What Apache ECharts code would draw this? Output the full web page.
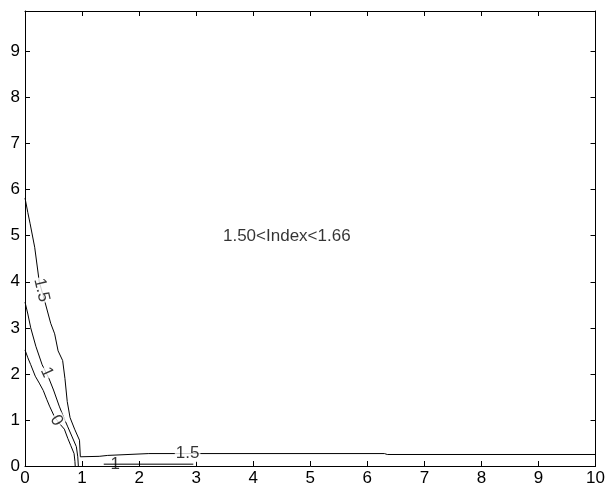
<!DOCTYPE html>
<html>
<head>
<meta charset="utf-8">
<script src="https://cdn.jsdelivr.net/npm/echarts@6/dist/echarts.min.js"></script>
<style>
html, body { margin: 0; padding: 0; background: #fff; }
#main { width: 608px; height: 487px; }
</style>
</head>
<body>
<div id="main"></div>
<script>
var dom = document.getElementById("main");
var myChart = echarts.init(dom);

var xTicks = [0, 10];
var yTicks = [0, 9.88];

// contour lines
var level15 = [[0,5.82],[0.05,5.5],[0.09,5.26],[0.17,4.75],[0.25,4.0],[0.35,3.56],[0.45,3.1],[0.52,2.87],
    [0.58,2.5],[0.66,2.29],[0.70,1.9],[0.74,1.4],[0.79,1.05],[0.87,0.8],[0.955,0.56],[0.97,0.2],
    [1.3,0.21],[1.45,0.23],[2.17,0.27],[6.3,0.27],[6.35,0.25],[10,0.25]];
var level1 = [[0,3.56],[0.05,3.3],[0.1,3.0],[0.19,2.6],[0.3,2.2],[0.42,1.9],[0.5,1.65],[0.6,1.3],
    [0.68,1.05],[0.75,0.85],[0.82,0.65],[0.9,0.42],[0.925,0.2],[0.935,0]];
var level1b = [[1.38,0.04],[2.95,0.04]];
var level0 = [[0,2.52],[0.05,2.35],[0.1,2.2],[0.18,1.95],[0.25,1.8],[0.32,1.64],[0.38,1.45],[0.43,1.3],
    [0.52,1.06],[0.62,0.9],[0.69,0.8],[0.75,0.6],[0.8,0.45],[0.86,0.27],[0.875,0.1],[0.88,0]];

var labelText = ['1.5', '1', '0', '1.5', '1'];
var labelPos = [[0.29,3.82],[0.38,2.03],[0.55,0.99],[2.85,0.27],[1.58,0.04]];
var labelAngle = [-77, -66, -60, 0, 0];

var noteText = '1.50<Index<1.66';
var notePos = [3.47, 4.99];

var font = '"Liberation Sans", Arial, sans-serif';

function lineSeries(name, pts) {
    return {
        name: name,
        type: 'line',
        data: pts,
        symbol: 'none',
        smooth: false,
        lineStyle: { color: '#000', width: 1 },
        z: 2
    };
}

var axisCommon = {
    type: 'value',
    interval: 1,
    axisLine: { show: true, onZero: false, lineStyle: { color: '#000', width: 1 } },
    axisTick: { show: true, inside: true, length: 5, lineStyle: { color: '#000' } },
    splitLine: { show: false },
    axisLabel: { show: false }
};

option = {
    animation: false,
    backgroundColor: '#fff',
    grid: { left: 25, right: 8, top: 11, bottom: 21 },
    xAxis: [
        Object.assign({}, axisCommon, {
            min: xTicks[0], max: xTicks[1], position: 'bottom',
            axisLabel: { show: true, color: '#000', fontSize: 17, fontFamily: font, margin: 4 }
        }),
        Object.assign({}, axisCommon, { min: xTicks[0], max: xTicks[1], position: 'top' })
    ],
    yAxis: [
        Object.assign({}, axisCommon, {
            min: yTicks[0], max: yTicks[1], position: 'left',
            axisLabel: {
                show: true, color: '#000', fontSize: 17, fontFamily: font, margin: 5,
                formatter: function (v) { return Number.isInteger(v) ? String(v) : ''; }
            }
        }),
        Object.assign({}, axisCommon, { min: yTicks[0], max: yTicks[1], position: 'right' })
    ],
    series: [
        lineSeries('1.5', level15),
        lineSeries('1', level1),
        lineSeries('1b', level1b),
        lineSeries('0', level0),
        {
            type: 'scatter',
            symbolSize: 0,
            z: 3,
            data: labelText.map(function (t, i) {
                return {
                    value: labelPos[i],
                    label: {
                        show: true,
                        formatter: t,
                        rotate: labelAngle[i],
                        position: 'inside',
                        align: 'center',
                        verticalAlign: 'middle',
                        color: '#000',
                        fontSize: 17,
                        fontFamily: font,
                        backgroundColor: i === 4 ? 'transparent' : '#fff',
                        padding: [0, 1]
                    }
                };
            })
        },
        {
            type: 'scatter',
            symbolSize: 0,
            z: 3,
            data: [notePos],
            label: {
                show: true,
                formatter: noteText,
                position: 'right',
                distance: 0,
                color: '#000',
                fontSize: 17,
                fontFamily: font
            }
        }
    ]
};

if (option && typeof option === "object") {
    myChart.setOption(option, true);
}
</script>
</body>
</html>
